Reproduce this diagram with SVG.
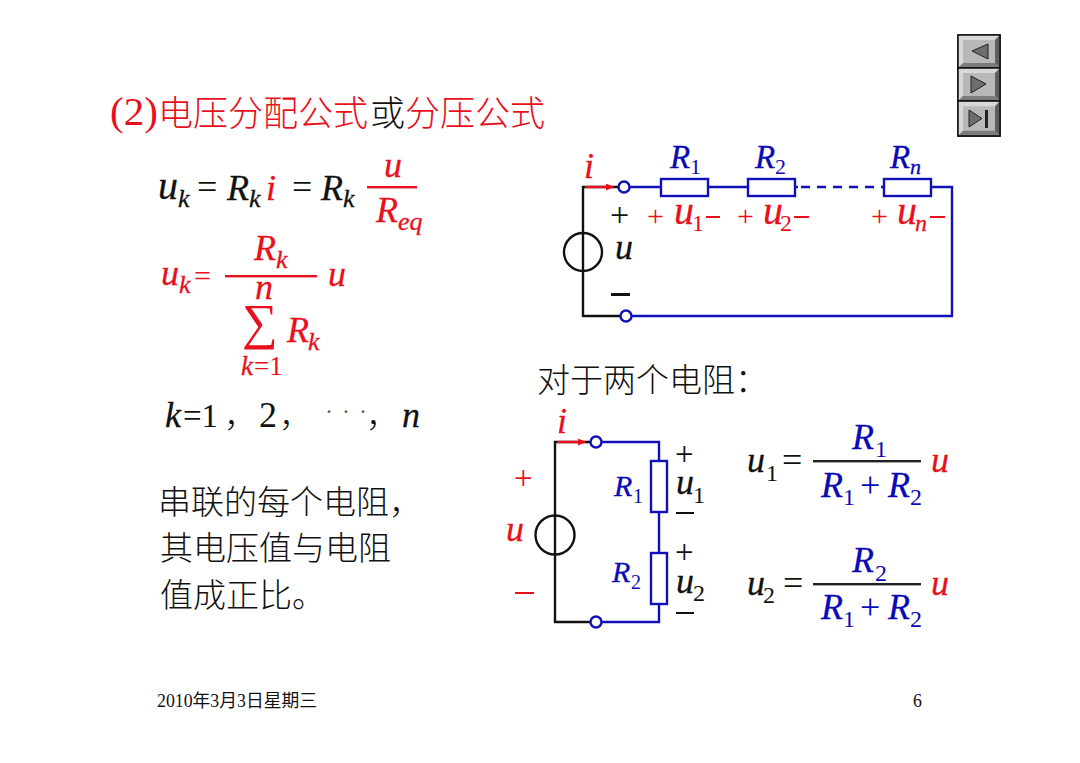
<svg xmlns="http://www.w3.org/2000/svg" width="1080" height="763" viewBox="0 0 1080 763">
<style>
text{font-family:"Liberation Serif","Noto Sans CJK SC",serif}
.r{fill:#e8101c}.b{fill:#0a0ab4}.k{fill:#111}
.i{font-style:italic;stroke-width:.3}
.i.r{stroke:#e8101c}.i.b{stroke:#0a0ab4}.i.k{stroke:#111}
.cn{font-family:"Noto Sans CJK SC",sans-serif;font-weight:300;font-size:33px}
.m{font-size:36px}.s{font-size:26px}.u{font-size:40px}
.wb{fill:none;stroke:#1010b8;stroke-width:2.4}
.wk{fill:none;stroke:#111;stroke-width:2.4}
.wr{fill:none;stroke:#e8101c;stroke-width:2.4}
.res{fill:#fff;stroke:#1010b8;stroke-width:2.4}
.nd{fill:#fff;stroke:#1010b8;stroke-width:2.4}
.bev1{fill:#d8d8d8}.bev2{fill:#7c7c7c}.bev3{fill:#5f5f5f}.face{fill:#b8b8b8}
.ic{fill:#6e6e6e;stroke:#222;stroke-width:1}
</style>
<defs>
<marker id="ah" markerWidth="9" markerHeight="8" refX="7" refY="3.5" orient="auto" markerUnits="userSpaceOnUse"><path d="M0 0L8 3.5L0 7z" fill="#e8101c"/></marker>
<g id="btn"><rect x="0" y="0" width="42" height="33" class="face" stroke="#111" stroke-width="1.5"/><path d="M0 0H42L37 5H5L5 28L0 33z" class="bev1"/><path d="M42 0V33L37 28V5z" class="bev3"/><path d="M0 33H42L37 28H5z" class="bev2"/><rect x="0" y="0" width="42" height="33" fill="none" stroke="#111" stroke-width="1.5"/></g>
</defs>
<rect width="1080" height="763" fill="#fff"/>

<g id="nav">
<use href="#btn" x="958" y="35"/><path d="M972 51L988 44V59z" class="ic"/>
<use href="#btn" x="958" y="68"/><path d="M971 76L986 84L971 93z" class="ic"/>
<use href="#btn" transform="translate(958 101) scale(1 1.06)"/><path d="M969 110L982 118.500L969 127z" class="ic"/><rect x="985" y="110" width="3" height="18" fill="#222"/>
</g>

<g id="title">
<text x="110" y="125" font-size="41" class="r">(2)</text>
<text x="158" y="126" class="cn r" style="font-size:35px">电压分配公式</text>
<text x="370" y="126" class="cn k" style="font-size:35px">或</text>
<text x="405" y="126" class="cn r" style="font-size:35px">分压公式</text>
</g>

<g id="formula-1">
<text x="158" y="199" class="u i k">u</text><text x="178" y="207" class="s i k">k</text>
<text x="197" y="199" class="m k">=</text>
<text x="227" y="200" class="m i k">R</text><text x="249" y="207" class="s i k">k</text>
<text x="266" y="200" class="m i r">i</text>
<text x="292" y="199" class="m k">=</text>
<text x="321" y="200" class="m i k">R</text><text x="343" y="207" class="s i k">k</text>
<rect x="367" y="186" width="50" height="2.4" fill="#e8101c"/>
<text x="384" y="177" class="m i r">u</text>
<text x="376" y="222" class="m i r">R</text><text x="398" y="230" class="s i r">eq</text>
</g>

<g id="formula-2">
<text x="161" y="285" class="m i r">u</text><text x="179" y="293" class="s i r">k</text><text x="194" y="286" font-size="30" class="r">=</text>
<rect x="225" y="275" width="92" height="2.4" fill="#e8101c"/>
<text x="254" y="260" class="m i r">R</text><text x="276" y="268" class="s i r">k</text>
<text x="328" y="286" class="m i r">u</text>
<text x="255" y="299" class="m i r">n</text>
<text x="242" y="339" font-size="50" class="r">∑</text>
<text x="287" y="342" class="m i r">R</text><text x="308" y="350" class="s i r">k</text>
<text x="241" y="375" font-size="27" class="i r">k</text><text x="254" y="375" font-size="27" class="r">=1</text>
</g>

<g id="range">
<text x="165" y="427" class="m i k">k</text><text x="183" y="427" font-size="33" class="k">=1</text>
<text x="224" y="427" class="cn k">，</text>
<text x="259" y="427" class="m k">2</text>
<text x="279" y="427" class="cn k">，</text>
<text x="325" y="419" font-size="24" fill="#555" letter-spacing="1.500">· · ·</text>
<text x="366" y="427" class="cn k">，</text>
<text x="402" y="427" class="m i k">n</text>
</g>

<g id="note" class="cn k">
<text x="158" y="514">串联的每个电阻，</text>
<text x="160" y="560">其电压值与电阻</text>
<text x="160" y="607">值成正比。</text>
</g>

<g id="connectors">
<path class="wk" d="M621 187H583V316H626"/>
<path class="wb" d="M624 187H661M708 187H748M884 187H931H952V316H626"/>
<path class="wb" d="M795 187H884" stroke-dasharray="3 3 9 7 9 7 9 7 9 7 9 7"/>
<path class="wr" d="M585 187H613" marker-end="url(#ah)"/>
<path class="wk" d="M593 442H555V622H596"/>
<path class="wb" d="M596 442H659V461M659 512V553M659 604V622H596"/>
<path class="wr" d="M557 442H585" marker-end="url(#ah)"/>
</g>

<g id="source-1"><circle cx="583" cy="252" r="19" fill="none" stroke="#111" stroke-width="2.4"/></g>
<g id="source-2"><circle cx="555" cy="535" r="19.500" fill="none" stroke="#111" stroke-width="2.4"/></g>
<g id="terminals">
<circle class="nd" cx="624" cy="187" r="5.500"/><circle class="nd" cx="626" cy="316" r="5.500"/>
<circle class="nd" cx="596" cy="442" r="5.500"/><circle class="nd" cx="596" cy="622" r="5.500"/>
</g>

<g id="r1"><rect class="res" x="661" y="179" width="47" height="17"/><text x="670" y="168" font-size="33" class="i b">R</text><text x="690" y="174" font-size="22" class="b">1</text></g>
<g id="r2"><rect class="res" x="748" y="179" width="47" height="17"/><text x="755" y="168" font-size="33" class="i b">R</text><text x="775" y="174" font-size="22" class="b">2</text></g>
<g id="rn"><rect class="res" x="884" y="179" width="47" height="17"/><text x="890" y="168" font-size="33" class="i b">R</text><text x="910" y="174" font-size="22" class="i b">n</text></g>
<g id="r1b"><rect class="res" x="651" y="461" width="16" height="51"/><text x="614" y="496" font-size="30" class="i b">R</text><text x="633" y="503" font-size="20" class="b">1</text></g>
<g id="r2b"><rect class="res" x="651" y="553" width="16" height="51"/><text x="612" y="582" font-size="30" class="i b">R</text><text x="631" y="589" font-size="20" class="b">2</text></g>

<g id="labels-1">
<text x="584" y="178" font-size="36" class="i r">i</text>
<text x="610" y="226" font-size="34" class="k">+</text>
<text x="615" y="259" class="m i k">u</text>
<rect x="611" y="293" width="19" height="3" fill="#111"/>
<text x="647" y="226" font-size="30" class="r">+</text><text x="674" y="224" class="u i r">u</text><text x="692" y="231" font-size="24" class="r">1</text>
<rect x="706" y="216" width="14" height="2" fill="#e8101c"/>
<text x="737" y="226" font-size="30" class="r">+</text><text x="763" y="224" class="u i r">u</text><text x="780" y="231" font-size="24" class="r">2</text>
<rect x="794" y="216" width="15" height="2" fill="#e8101c"/>
<text x="871" y="226" font-size="30" class="r">+</text><text x="897" y="224" class="u i r">u</text><text x="915" y="231" font-size="24" class="i r">n</text>
<rect x="930" y="216" width="15" height="2" fill="#e8101c"/>
</g>

<g id="heading-2"><text x="537" y="392" class="cn k">对于两个电阻：</text></g>

<g id="labels-2">
<text x="557" y="433" font-size="36" class="i r">i</text>
<text x="514" y="489" font-size="33" class="r">+</text>
<text x="506" y="541" class="m i r">u</text>
<rect x="515" y="592" width="19" height="2" fill="#e8101c"/>
<text x="675" y="465" font-size="33" class="k">+</text>
<text x="676" y="494" class="m i k">u</text><text x="693" y="503" font-size="24" class="k">1</text>
<rect x="676" y="512" width="18" height="2" fill="#111"/>
<text x="675" y="563" font-size="33" class="k">+</text>
<text x="676" y="593" class="m i k">u</text><text x="693" y="601" font-size="24" class="k">2</text>
<rect x="676" y="612" width="18" height="2" fill="#111"/>
</g>

<g id="formula-3">
<text x="747" y="472" class="m i k">u</text><text x="766" y="481" font-size="24" class="k">1</text><text x="782" y="472" class="m k">=</text>
<rect x="813" y="460" width="108" height="2.4" fill="#222"/>
<text x="852" y="449" class="m i b">R</text><text x="875" y="457" font-size="24" class="b">1</text>
<text x="821" y="497" class="m i b">R</text><text x="843" y="505" font-size="24" class="b">1</text><text x="860" y="497" class="m b">+</text><text x="888" y="497" class="m i b">R</text><text x="910" y="505" font-size="24" class="b">2</text>
<text x="931" y="472" class="m i r">u</text>
</g>
<g id="formula-4">
<text x="747" y="595" class="m i k">u</text><text x="763" y="603" font-size="24" class="k">2</text><text x="783" y="595" class="m k">=</text>
<rect x="813" y="583" width="108" height="2.4" fill="#222"/>
<text x="852" y="572" class="m i b">R</text><text x="875" y="581" font-size="24" class="b">2</text>
<text x="821" y="619" class="m i b">R</text><text x="843" y="627" font-size="24" class="b">1</text><text x="860" y="619" class="m b">+</text><text x="888" y="619" class="m i b">R</text><text x="910" y="627" font-size="24" class="b">2</text>
<text x="931" y="595" class="m i r">u</text>
</g>

<g id="footer">
<text x="157" y="707" font-size="17.800" class="k">2010年3月3日星期三</text>
<text x="913" y="707" font-size="17.800" class="k">6</text>
</g>
</svg>
